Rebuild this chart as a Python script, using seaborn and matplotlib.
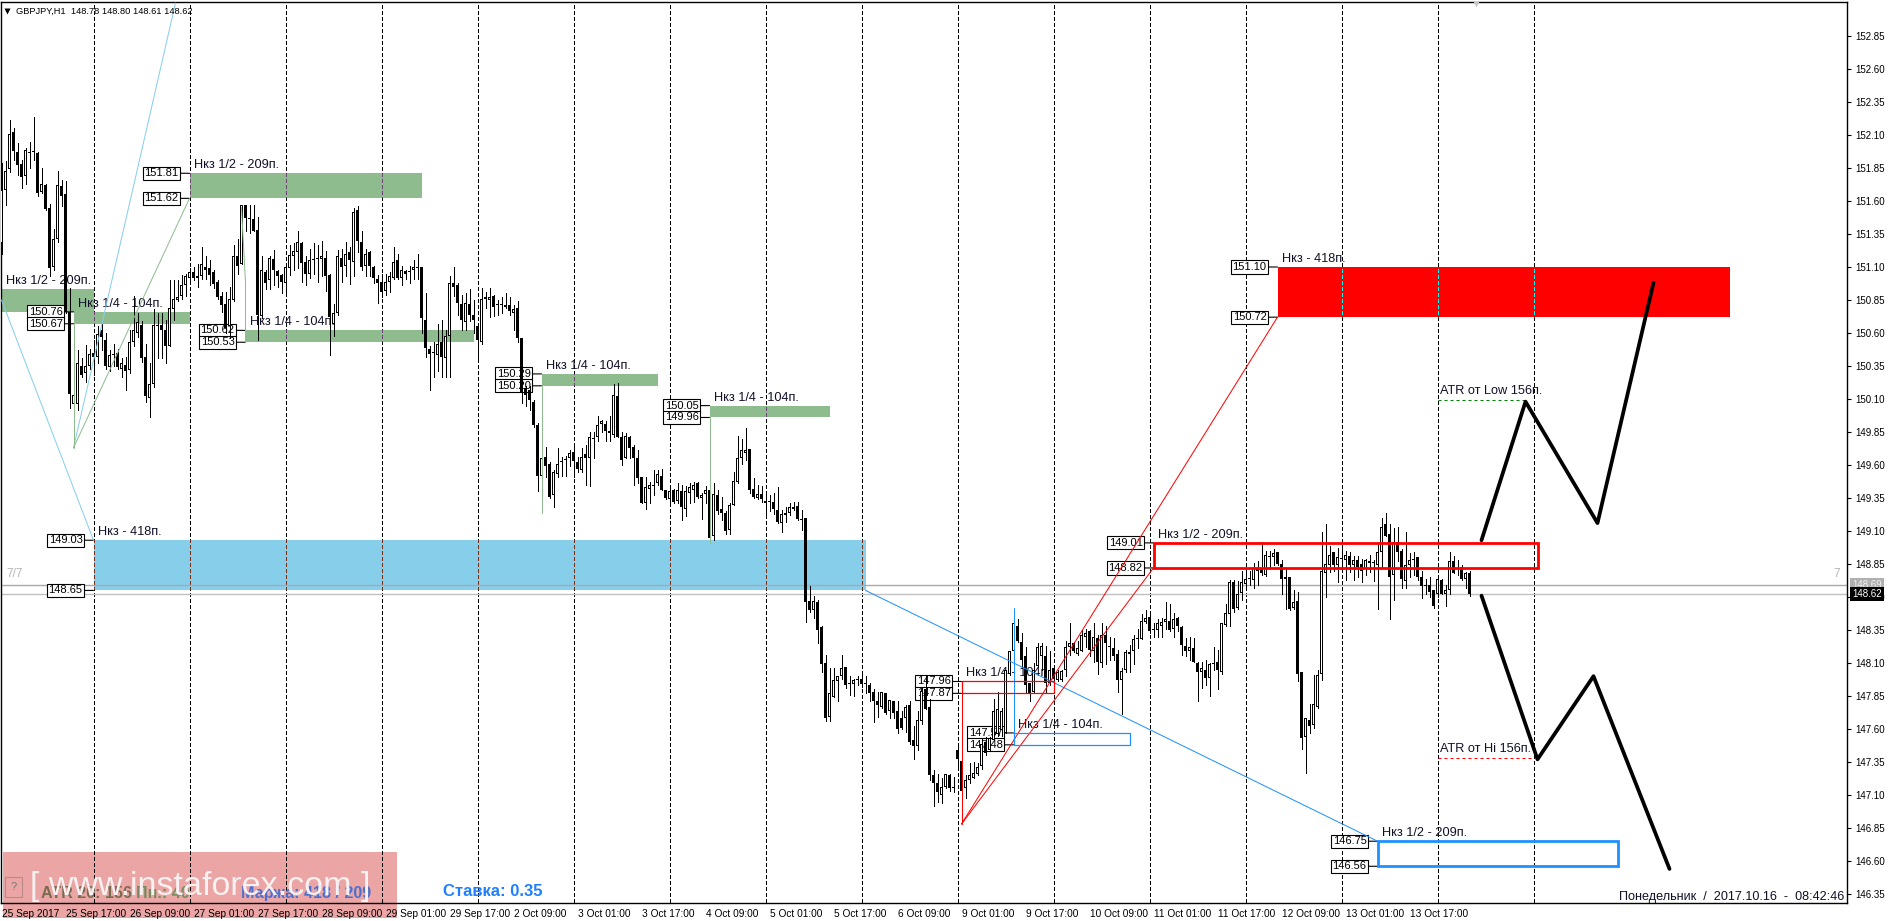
from matplotlib import pyplot as plt
from matplotlib.patches import Rectangle
import seaborn as sns
import numpy as np

# candles per trading week, each row is open, close, high, low
week_25_sep = [
    (151.28,151.68,151.89,151.20),(151.68,151.83,151.90,151.57),(151.84,152.11,152.21,151.82),(152.12,151.98,152.15,151.91),
    (151.97,151.87,152.04,151.80),(151.88,151.78,151.91,151.70),(151.79,151.99,152.00,151.73),(151.96,151.97,152.05,151.85),
    (151.97,151.97,152.24,151.91),(151.96,151.66,151.97,151.64),(151.67,151.73,151.85,151.66),(151.72,151.54,151.73,151.53),
    (151.55,151.09,151.58,151.03),(151.10,151.31,151.39,151.08),(151.31,151.72,151.83,151.29),(151.71,151.64,151.76,151.56),
    (151.65,150.76,151.75,150.75),(150.76,150.14,150.94,150.03),(150.06,150.13,150.14,150.05),(150.06,150.37,150.47,150.02),
    (150.35,150.28,150.41,150.27),(150.30,150.35,150.51,150.23),(150.35,150.44,150.48,150.33),(150.45,150.42,150.55,150.28),
    (150.42,150.59,150.65,150.37),(150.62,150.57,150.67,150.47),(150.55,150.35,150.60,150.33),(150.34,150.43,150.47,150.31),
    (150.44,150.43,150.52,150.35),(150.45,150.34,150.48,150.33),(150.33,150.37,150.41,150.27),(150.36,150.31,150.42,150.17),
    (150.32,150.53,150.62,150.30),(150.53,150.62,150.88,150.50),(150.60,150.68,150.75,150.57),(150.66,150.41,150.69,150.38),
    (150.42,150.12,150.52,150.08),(150.11,150.21,150.37,149.96),(150.21,150.66,150.78,150.19),(150.66,150.65,150.75,150.41),
    (150.66,150.62,150.75,150.41),(150.62,150.50,150.70,150.37),(150.50,150.79,151.00,150.50),(150.78,150.86,151.00,150.70),
    (150.85,150.87,151.00,150.84),(150.88,150.96,151.04,150.86),(150.96,151.03,151.05,150.88),(151.02,151.06,151.09,150.98),
    (151.06,151.02,151.10,151.00),(151.03,151.02,151.12,150.95),(151.03,151.12,151.25,151.01),(151.10,151.08,151.18,151.01),
    (151.09,151.04,151.15,150.96),(151.06,150.97,151.08,150.94),(150.99,150.87,151.00,150.86),(150.88,150.81,150.91,150.76),
    (150.82,150.64,150.91,150.60),(150.65,150.86,150.95,150.56),(150.85,151.18,151.27,150.84),(151.18,151.11,151.31,151.05),
    (151.12,151.57,151.57,151.12),(151.57,151.47,151.57,151.37),(151.47,151.46,151.57,151.36),(151.46,151.37,151.57,151.37),
    (151.38,150.74,151.48,150.55),(150.73,151.08,151.18,150.71),(151.06,150.98,151.08,150.93),(151.00,151.17,151.18,150.93),
    (151.16,151.08,151.23,150.96),(151.07,151.03,151.08,150.95),(151.04,150.99,151.05,150.90),(150.98,151.10,151.11,150.90),
    (151.09,151.19,151.27,151.04),(151.18,151.22,151.28,151.08),(151.21,151.29,151.37,151.09),(151.28,151.13,151.29,150.99),
    (151.14,151.05,151.18,150.96),(151.05,151.15,151.24,151.02),(151.16,151.15,151.28,151.05),(151.16,151.17,151.27,150.99),
    (151.16,151.18,151.30,151.03),(151.17,151.03,151.22,150.92),(151.04,150.72,151.05,150.43),(150.67,150.75,150.82,150.58),
    (150.75,151.18,151.23,150.74),(151.17,151.10,151.24,150.99),(151.11,151.20,151.29,151.03),(151.21,151.15,151.25,150.97),
    (151.14,151.52,151.55,151.03),(151.53,151.30,151.56,151.21),(151.29,151.10,151.37,151.08),(151.11,151.20,151.24,151.03),
    (151.21,151.11,151.22,151.03),(151.10,151.02,151.11,150.98),(151.01,150.98,151.04,150.83),(150.99,150.91,151.05,150.87),
    (150.92,150.99,151.05,150.89),(150.99,151.03,151.06,150.91),(151.02,151.14,151.25,151.01),(151.15,151.02,151.20,151.01),
    (151.02,151.08,151.11,150.96),(151.07,151.05,151.08,151.01),(151.07,151.06,151.11,150.98),(151.08,151.10,151.15,151.01),
    (151.09,151.09,151.20,151.01),(151.10,150.71,151.10,150.60),(150.70,150.49,150.90,150.42),(150.48,150.44,150.50,150.17),
    (150.45,150.45,150.53,150.27),(150.43,150.52,150.67,150.31),(150.53,150.42,150.70,150.27),(150.41,150.58,150.62,150.27),
    (150.58,150.98,151.03,150.27),(150.98,150.95,151.10,150.88),(150.96,150.83,150.98,150.74),(150.82,150.70,150.89,150.62),
    (150.68,150.83,150.90,150.62),(150.82,150.74,150.93,150.69),(150.74,150.70,150.85,150.60),
]
week_02_oct = [
    (150.65,150.55,150.66,150.41),(150.53,150.86,150.94,150.52),(150.87,150.86,150.91,150.79),(150.85,150.87,150.94,150.72),
    (150.88,150.80,150.89,150.73),(150.81,150.81,150.85,150.74),(150.81,150.81,150.87,150.75),(150.81,150.80,150.90,150.79),
    (150.81,150.77,150.87,150.74),(150.75,150.78,150.81,150.62),(150.79,150.56,150.84,150.53),(150.56,150.15,150.56,150.07),
    (150.18,150.13,150.20,150.05),(150.17,150.09,150.20,150.02),(150.08,149.90,150.09,149.89),(149.90,149.52,149.92,149.40),
    (149.52,149.65,149.80,149.51),(149.66,149.59,149.74,149.51),(149.61,149.36,149.62,149.35),(149.37,149.55,149.56,149.28),
    (149.53,149.61,149.73,149.51),(149.63,149.62,149.66,149.52),(149.64,149.64,149.67,149.52),(149.65,149.69,149.71,149.59),
    (149.70,149.63,149.75,149.51),(149.62,149.57,149.66,149.55),(149.56,149.66,149.73,149.55),(149.68,149.65,149.75,149.45),
    (149.65,149.81,149.85,149.44),(149.80,149.80,149.85,149.65),(149.81,149.90,149.97,149.78),(149.91,149.93,149.94,149.85),
    (149.91,149.86,149.93,149.78),(149.86,149.84,149.97,149.78),(149.83,150.13,150.21,149.81),(150.12,149.81,150.22,149.81),
    (149.81,149.64,149.85,149.60),(149.65,149.82,149.84,149.65),(149.81,149.73,149.82,149.65),(149.74,149.65,149.75,149.45),
    (149.65,149.50,149.71,149.46),(149.51,149.31,149.51,149.31),(149.31,149.43,149.51,149.27),(149.42,149.45,149.47,149.31),
    (149.45,149.44,149.56,149.37),(149.46,149.53,149.56,149.45),(149.52,149.41,149.57,149.41),(149.41,149.35,149.41,149.34),
    (149.34,149.40,149.44,149.32),(149.41,149.32,149.42,149.31),(149.33,149.41,149.46,149.31),(149.40,149.28,149.45,149.18),
    (149.27,149.40,149.44,149.21),(149.39,149.43,149.46,149.31),(149.41,149.45,149.47,149.32),(149.46,149.36,149.47,149.35),
    (149.35,149.37,149.39,149.19),(149.38,149.41,149.44,149.31),(149.41,149.05,149.41,149.04),(149.06,149.38,149.46,149.03),
    (149.37,149.25,149.41,149.23),(149.27,149.24,149.36,149.18),(149.24,149.10,149.25,149.08),(149.11,149.30,149.31,149.08),
    (149.30,149.48,149.55,149.30),(149.47,149.65,149.82,149.46),(149.65,149.71,149.80,149.61),(149.69,149.71,149.88,149.64),
    (149.72,149.41,149.72,149.39),(149.42,149.36,149.50,149.35),(149.35,149.38,149.45,149.34),(149.38,149.34,149.44,149.32),
    (149.33,149.31,149.40,149.23),(149.32,149.32,149.37,149.25),(149.32,149.27,149.39,149.23),(149.26,149.17,149.43,149.16),
    (149.16,149.23,149.26,149.09),(149.24,149.22,149.28,149.17),(149.24,149.28,149.31,149.22),(149.28,149.27,149.32,149.26),
    (149.29,149.19,149.32,149.18),(149.19,149.18,149.26,149.11),(149.20,148.56,149.20,148.41),(148.57,148.50,148.68,148.49),
    (148.50,148.57,148.61,148.44),(148.56,148.35,148.58,148.25),(148.37,148.09,148.38,148.03),(148.10,147.68,148.16,147.66),
    (147.69,147.87,148.06,147.66),(147.84,147.97,148.06,147.84),(147.96,148.00,148.00,147.81),(148.00,148.06,148.16,147.98),
    (148.07,147.93,148.07,147.91),(147.95,147.94,148.00,147.86),(147.94,147.97,147.98,147.85),(147.98,147.97,148.00,147.93),
    (147.98,147.94,148.02,147.92),(147.94,147.94,148.00,147.87),(147.93,147.87,147.95,147.81),(147.88,147.81,147.90,147.65),
    (147.81,147.78,147.88,147.69),(147.77,147.88,147.88,147.76),(147.87,147.72,147.87,147.71),(147.74,147.82,147.82,147.68),
    (147.81,147.72,147.81,147.68),(147.74,147.60,147.81,147.57),(147.68,147.61,147.74,147.60),(147.68,147.77,147.78,147.58),
    (147.78,147.50,147.81,147.49),(147.52,147.47,147.62,147.37),(147.47,147.67,147.74,147.44),(147.66,147.89,147.92,147.64),
    (147.90,147.75,148.00,147.75),(147.77,147.25,147.83,147.21),(147.25,147.19,147.29,147.02),(147.19,147.12,147.26,147.05),
    (147.10,147.16,147.23,147.04),(147.16,147.26,147.26,147.15),(147.25,147.15,147.26,147.13),(147.16,147.15,147.24,147.12),
]
week_09_oct = [
    (147.44,147.37,147.48,147.29),(147.36,147.13,147.36,147.13),(147.15,147.21,147.25,147.08),(147.21,147.25,147.34,147.19),
    (147.23,147.27,147.35,147.23),(147.26,147.31,147.34,147.25),(147.32,147.49,147.53,147.30),(147.50,147.42,147.54,147.40),
    (147.44,147.53,147.54,147.44),(147.52,147.74,147.83,147.52),(147.56,147.75,147.88,147.55),(147.59,147.74,147.76,147.55),
    (147.57,148.05,148.05,147.57),(148.02,148.19,148.19,148.01),(148.19,148.40,148.46,148.17),(148.38,148.27,148.43,148.26),
    (148.26,148.12,148.33,148.06),(148.15,147.93,148.22,147.88),(147.95,147.87,147.95,147.81),(147.88,148.05,148.10,147.87),
    (148.08,148.22,148.25,148.07),(148.15,148.23,148.25,148.05),(148.15,147.95,148.23,147.87),(147.95,148.05,148.19,147.93),
    (148.06,147.98,148.07,147.93),(147.97,148.03,148.05,147.96),(147.97,148.04,148.05,147.96),(148.05,148.22,148.27,148.00),
    (148.22,148.25,148.40,148.16),(148.25,148.19,148.26,148.18),(148.17,148.21,148.27,148.16),(148.19,148.31,148.35,148.19),
    (148.30,148.33,148.36,148.22),(148.34,148.20,148.35,148.15),(148.19,148.30,148.40,148.11),(148.29,148.11,148.31,148.02),
    (148.10,148.31,148.40,148.07),(148.31,148.25,148.38,148.09),(148.23,148.22,148.30,148.12),(148.21,148.15,148.29,148.12),
    (148.17,147.97,148.20,147.88),(147.97,148.04,148.06,147.71),(148.05,148.18,148.20,148.03),(148.17,148.18,148.24,148.03),
    (148.19,148.28,148.31,148.09),(148.29,148.28,148.36,148.21),(148.28,148.42,148.47,148.28),(148.41,148.44,148.50,148.40),
    (148.45,148.34,148.46,148.33),(148.35,148.36,148.40,148.30),(148.35,148.40,148.43,148.30),(148.38,148.41,148.44,148.30),
    (148.41,148.43,148.56,148.36),(148.42,148.35,148.55,148.34),(148.36,148.43,148.48,148.30),(148.44,148.38,148.45,148.34),
    (148.37,148.24,148.38,148.16),(148.23,148.19,148.29,148.15),(148.19,148.22,148.30,148.12),(148.21,148.11,148.29,148.11),
    (148.10,148.03,148.11,147.81),(148.03,148.06,148.11,147.91),(148.05,147.99,148.12,147.93),(147.99,148.09,148.10,147.85),
    (148.10,148.09,148.22,148.05),(148.11,148.05,148.20,147.90),(148.03,148.40,148.40,148.02),(148.39,148.48,148.55,148.38),
    (148.47,148.71,148.73,148.38),(148.71,148.51,148.73,148.49),(148.52,148.62,148.72,148.51),(148.63,148.71,148.80,148.58),
    (148.70,148.74,148.80,148.67),(148.74,148.74,148.80,148.69),(148.73,148.82,148.86,148.67),(148.82,148.80,148.87,148.69),
    (148.82,148.78,149.02,148.77),(148.77,148.92,148.95,148.76),(148.90,148.90,148.95,148.83),(148.90,148.93,148.96,148.84),
    (148.94,148.85,148.94,148.84),(148.85,148.74,148.88,148.62),(148.75,148.74,148.82,148.51),(148.75,148.51,148.75,148.50),
    (148.52,148.56,148.65,148.51),(148.57,148.02,148.64,147.96),(148.03,147.53,148.03,147.45),(147.54,147.68,147.68,147.27),
    (147.67,147.62,147.79,147.57),(147.63,147.79,148.01,147.61),(147.77,148.01,148.05,147.76),(148.02,148.80,149.09,147.97),
    (148.78,148.85,149.15,148.60),(148.84,148.92,148.99,148.79),(148.94,148.84,148.94,148.80),(148.84,148.90,148.97,148.71),
    (148.89,148.89,148.99,148.82),(148.88,148.92,148.95,148.73),(148.91,148.84,148.94,148.79),(148.84,148.88,148.91,148.73),
    (148.88,148.83,148.91,148.75),(148.85,148.80,148.89,148.71),(148.81,148.88,148.89,148.77),(148.87,148.86,148.92,148.79),
    (148.86,148.86,148.88,148.72),(148.84,148.94,149.01,148.51),(148.94,149.13,149.20,148.82),(149.15,149.06,149.24,149.06),
    (149.08,148.75,149.15,148.43),(148.77,149.02,149.12,148.58),(149.02,148.94,149.13,148.87),(148.95,148.74,148.96,148.67),
    (148.72,148.84,149.09,148.67),(148.84,148.88,148.93,148.75),(148.89,148.88,148.94,148.77),(148.90,148.75,148.90,148.73),
    (148.75,148.68,148.80,148.59),(148.69,148.68,148.74,148.62),(148.69,148.64,148.75,148.60),(148.65,148.53,148.65,148.52),
    (148.62,148.74,148.75,148.60),(148.73,148.62,148.74,148.62),(148.62,148.65,148.69,148.53),(148.65,148.87,148.94,148.62),
    (148.87,148.78,148.91,148.78),(148.82,148.81,148.88,148.77),(148.83,148.74,148.84,148.73),(148.74,148.78,148.79,148.67),
    (148.78,148.62,148.80,148.61),
]

y_ticks = [146.35, 146.60, 146.85, 147.10, 147.35, 147.60, 147.85, 148.10, 148.35, 148.60, 148.85, 149.10, 149.35,
           149.60, 149.85, 150.10, 150.35, 150.60, 150.85, 151.10, 151.35, 151.60, 151.85, 152.10, 152.35, 152.60, 152.85]
date_labels = ['25 Sep 2017', '25 Sep 17:00', '26 Sep 09:00', '27 Sep 01:00', '27 Sep 17:00', '28 Sep 09:00',
               '29 Sep 01:00', '29 Sep 17:00', '2 Oct 09:00', '3 Oct 01:00', '3 Oct 17:00', '4 Oct 09:00',
               '5 Oct 01:00', '5 Oct 17:00', '6 Oct 09:00', '9 Oct 01:00', '9 Oct 17:00', '10 Oct 09:00',
               '11 Oct 01:00', '11 Oct 17:00', '12 Oct 09:00', '13 Oct 01:00', '13 Oct 17:00']
day_lines = [23, 47, 71, 95, 119, 143, 167, 191, 215, 239, 263, 287, 311, 335, 359, 383]

# zones, in bars and prices
zone_start = [0, 18, 47, 61, 135, 177, 23, 319, 288, 240, 253, 344]
zone_end = [23, 47, 105, 118, 164, 207, 216, 432, 384, 263, 282, 404]
zone_top = [150.93, 150.76, 151.81, 150.62, 150.29, 150.05, 149.03, 151.10, 149.01, 147.96, 147.57, 146.75]
zone_bottom = [150.76, 150.67, 151.62, 150.53, 150.20, 149.96, 148.65, 150.72, 148.82, 147.87, 147.48, 146.56]
zone_title = ['Нкз 1/2 - 209п.', 'Нкз 1/4 - 104п.', 'Нкз 1/2 - 209п.', 'Нкз 1/4 - 104п.', 'Нкз 1/4 - 104п.',
              'Нкз 1/4 - 104п.', 'Нкз - 418п.', 'Нкз - 418п.', 'Нкз 1/2 - 209п.', 'Нкз 1/4 - 104п.',
              'Нкз 1/4 - 104п.', 'Нкз 1/2 - 209п.']

# trend lines as (bars, prices)
sky_lines = [([0, 23], [150.85, 149.03]), ([18, 43.5], [149.73, 153.10])]
green_lines = [([18, 18], [150.67, 149.73]), ([18, 47], [149.73, 151.62]), ([60, 61, 61], [151.55, 150.98, 150.53]),
               ([135, 135], [150.20, 149.24]), ([177, 177], [149.96, 149.01])]
blue_lines = [([216, 344], [148.65, 146.75]), ([253, 253], [148.52, 147.48])]
red_lines = [([240, 240], [147.96, 146.88]), ([240, 288], [146.88, 148.82]), ([240, 319], [146.88, 150.72])]
forecast_up = ([370, 381, 399, 413], [149.03, 150.08, 149.16, 150.98])
forecast_down = ([370, 384, 398, 417], [148.61, 147.37, 148.00, 146.54])
atr_low = ([359, 381], [150.09, 150.09])
atr_high = ([359, 383], [147.38, 147.38])
ask_price = 148.69
bid_price = 148.62

sns.set_theme(style='white')
plt.rcParams['font.family'] = ['Liberation Sans', 'DejaVu Sans']

W, H = 1888, 921
PX = 0.72
PRICE_PX = 1 / 132
fig = plt.figure(figsize=(W / 100, H / 100), dpi=100, facecolor='white')
ax = fig.add_axes([1 / W, (H - 903) / H, 1846 / W, 901 / H])
ax.patch.set_visible(False)

candles = np.array(week_25_sep + week_02_oct + week_09_oct)
bars = np.arange(len(candles))
o, c, h, l = candles.T


def seg(line, color, lw=PX, ls='-', z=4):
    sns.lineplot(x=line[0], y=line[1], sort=False, estimator=None, color=color, lw=lw, ls=ls, zorder=z, ax=ax)


# zones
fills = ['#8FBC8F'] * 6 + ['#87CEEB', '#FF0000', None, None, None, None]
edges = [None] * 8 + ['#FF0000', '#FF0000', '#1E90FF', '#1E90FF']
widths = [0] * 8 + [2.0, 0.9, 0.9, 2.0]
inverse = {'#8FBC8F': '#70437A', '#87CEEB': '#782D14', '#FF0000': '#00FFFF'}
patches = []
for i in range(len(zone_start)):
    x0, y0 = zone_start[i], zone_bottom[i]
    w, hh = zone_end[i] - zone_start[i], zone_top[i] - zone_bottom[i]
    if fills[i]:
        p = Rectangle((x0, y0), w, hh, fc=fills[i], ec='none', zorder=1)
        ax.add_patch(p)
        patches.append((p, fills[i]))
    else:
        ax.add_patch(Rectangle((x0, y0), w, hh, fc='none', ec=edges[i], lw=widths[i], zorder=4.5))

# daily separators, they flip colour inside the filled zones
dash = (0, (4, 2.6))
for x in day_lines:
    ax.plot([x, x], [153.2, 146.2], color='black', lw=PX, ls=dash, zorder=2, antialiased=False)
    for p, col in patches:
        ln, = ax.plot([x, x], [153.2, 146.2], color=inverse[col], lw=PX, ls=dash, zorder=2.2, antialiased=False)
        ln.set_clip_path(p)

# bid and ask
ax.axhline(ask_price, color='#A9A9A9', lw=1.0, zorder=2.3)
ax.axhline(bid_price, color='#C0C0C0', lw=1.0, zorder=2.3)

# titles and price boxes sit under the candles
for i in range(len(zone_start)):
    ax.annotate(zone_title[i], xy=(zone_start[i], zone_top[i]), xytext=(5, 8), textcoords='offset pixels',
                fontsize=9.2, color='#101028', va='center', ha='left', zorder=2.5)
    if i == 0:
        continue
    for price in (zone_top[i], zone_bottom[i]):
        ax.annotate(f'{price:.2f}', xy=(zone_start[i], price), xytext=(-11, 0), textcoords='offset pixels',
                    fontsize=8.0, color='black', va='center', ha='right', zorder=2.6,
                    bbox=dict(boxstyle='square,pad=0.14', fc='white', ec='black', lw=0.8),
                    arrowprops=dict(arrowstyle='-', lw=0.8, color='black', shrinkA=0, shrinkB=0))

# candles: 3 px bodies on a 4 px step, white ones keep a 1 px hollow centre
ax.vlines(bars, l, h, color='black', lw=PX, zorder=3, antialiased=False)
top = np.maximum(o, c)
bottom = np.minimum(o, c)
tall = np.maximum(top - bottom, PRICE_PX)
ax.bar(bars, tall, bottom=bottom, width=0.75, fc='black', lw=0, zorder=3.1, antialiased=False)
hollow = (c > o) & (top - bottom > 2 * PRICE_PX)
ax.bar(bars[hollow], (top - bottom)[hollow] - 2 * PRICE_PX, bottom=bottom[hollow] + PRICE_PX, width=0.25,
       fc='white', lw=0, zorder=3.2, antialiased=False)

# trend lines
for line in sky_lines:
    seg(line, '#87CEEB')
for line in green_lines:
    seg(line, '#8FBC8F')
for line in blue_lines:
    seg(line, '#1E90FF')
for line in red_lines:
    seg(line, '#FF0000')
seg(atr_low, '#008000', ls=(0, (3, 3)))
seg(atr_high, '#FF0000', ls=(0, (3, 3)))
seg(forecast_up, 'black', lw=2.7, z=4.6)
seg(forecast_down, 'black', lw=2.7, z=4.6)

ax.annotate('ATR от Low 156п.', xy=(359, atr_low[1][0]), xytext=(3, 9), textcoords='offset pixels',
            fontsize=9.2, color='#101028', va='center', zorder=2.5)
ax.annotate('ATR от Hi 156п.', xy=(359, atr_high[1][0]), xytext=(3, 9), textcoords='offset pixels',
            fontsize=9.2, color='#101028', va='center', zorder=2.5)

# axes
ax.set_xlim(-0.125, 461.375)
ax.set_ylim(152.85 - (903 - 36) / 132, 152.85 + (36 - 2) / 132)
ax.set(xlabel='', ylabel='')
ax.yaxis.tick_right()
ax.set_yticks(y_ticks, [f'{v:.2f}' for v in y_ticks])
ax.set_xticks(np.arange(len(date_labels)) * 16, date_labels)
ax.tick_params(axis='y', length=3, width=0.8, pad=3, labelsize=7.0, colors='black')
ax.tick_params(axis='x', length=3, width=0.8, pad=1, labelsize=7.3, colors='black')
for t in ax.get_xticklabels():
    t.set_ha('left')
for s in ax.spines.values():
    s.set_color('black')
    s.set_linewidth(1.0)

# price tags on the right axis
ax.annotate(f'{ask_price:.2f}', xy=(1, ask_price), xycoords=('axes fraction', 'data'), xytext=(5, 0),
            textcoords='offset pixels', fontsize=7.0, color='#F0F0F0', va='center', annotation_clip=False,
            bbox=dict(boxstyle='square,pad=0.22', fc='#B0B0B0', ec='none'))
ax.annotate(f'{bid_price:.2f}', xy=(1, bid_price), xycoords=('axes fraction', 'data'), xytext=(5, 0),
            textcoords='offset pixels', fontsize=7.0, color='white', va='center', annotation_clip=False,
            bbox=dict(boxstyle='square,pad=0.22', fc='black', ec='none'))
ax.annotate('7', xy=(1, ask_price), xycoords=('axes fraction', 'data'), xytext=(-14, 11), textcoords='offset pixels',
            fontsize=8.5, color='#B5B5B5', va='center')
ax.annotate('7/7', xy=(0, ask_price), xycoords=('axes fraction', 'data'), xytext=(5, 11), textcoords='offset pixels',
            fontsize=8.5, color='#B5B5B5', va='center')


# header and status texts, placed in figure pixels
def ftext(px, py, s, **kw):
    fig.text(px / W, 1 - py / H, s, va='center', **kw)


ax.plot([6 / 1846], [1 - 9 / 901], marker='v', ms=5, color='black', mec='none', transform=ax.transAxes, zorder=6)
ftext(16, 11, 'GBPJPY,H1  148.78 148.80 148.61 148.62', fontsize=6.7, color='black')
ax.plot([368.5], [153.09], marker='v', ms=5, color='#C8C8C8', mec='none', zorder=6)
ftext(1844, 897, 'Понедельник  /  2017.10.16  -  08:42:46', fontsize=9.1, color='#101028', ha='right')

# watermark strip goes under the axes, so ticks and separators stay dark on it
fig.add_artist(Rectangle((3 / W, 1 - 918 / H), 394 / W, 66 / H, transform=fig.transFigure,
                         fc='#EBA5A5', ec='none', zorder=-1))
fig.add_artist(Rectangle((5 / W, 1 - 897 / H), 17 / W, 20 / H, transform=fig.transFigure,
                         fc='none', ec='#B88', lw=0.8, zorder=8))
ftext(13.5, 887, '?', fontsize=8, color='#777777', ha='center', zorder=8)
ftext(41, 893, 'ATR 20: 156', fontsize=11.6, fontweight='bold', color='#7A6A50', zorder=8)
ftext(136, 893, 'Пн.: 40', fontsize=11.6, fontweight='bold', color='#7A8A60', zorder=8)
ftext(241, 893, 'Маржа: 418 / 209', fontsize=11.6, fontweight='bold', color='#4F6FCF', zorder=8)
ftext(443, 891, 'Ставка: 0.35', fontsize=12, fontweight='bold', color='#1E7FFF', zorder=8)
ftext(200, 886, '[ www.instaforex.com ]', fontsize=24.5, color='#F7F1F1', ha='center', zorder=9)

fig.savefig('out.png', dpi=100)
